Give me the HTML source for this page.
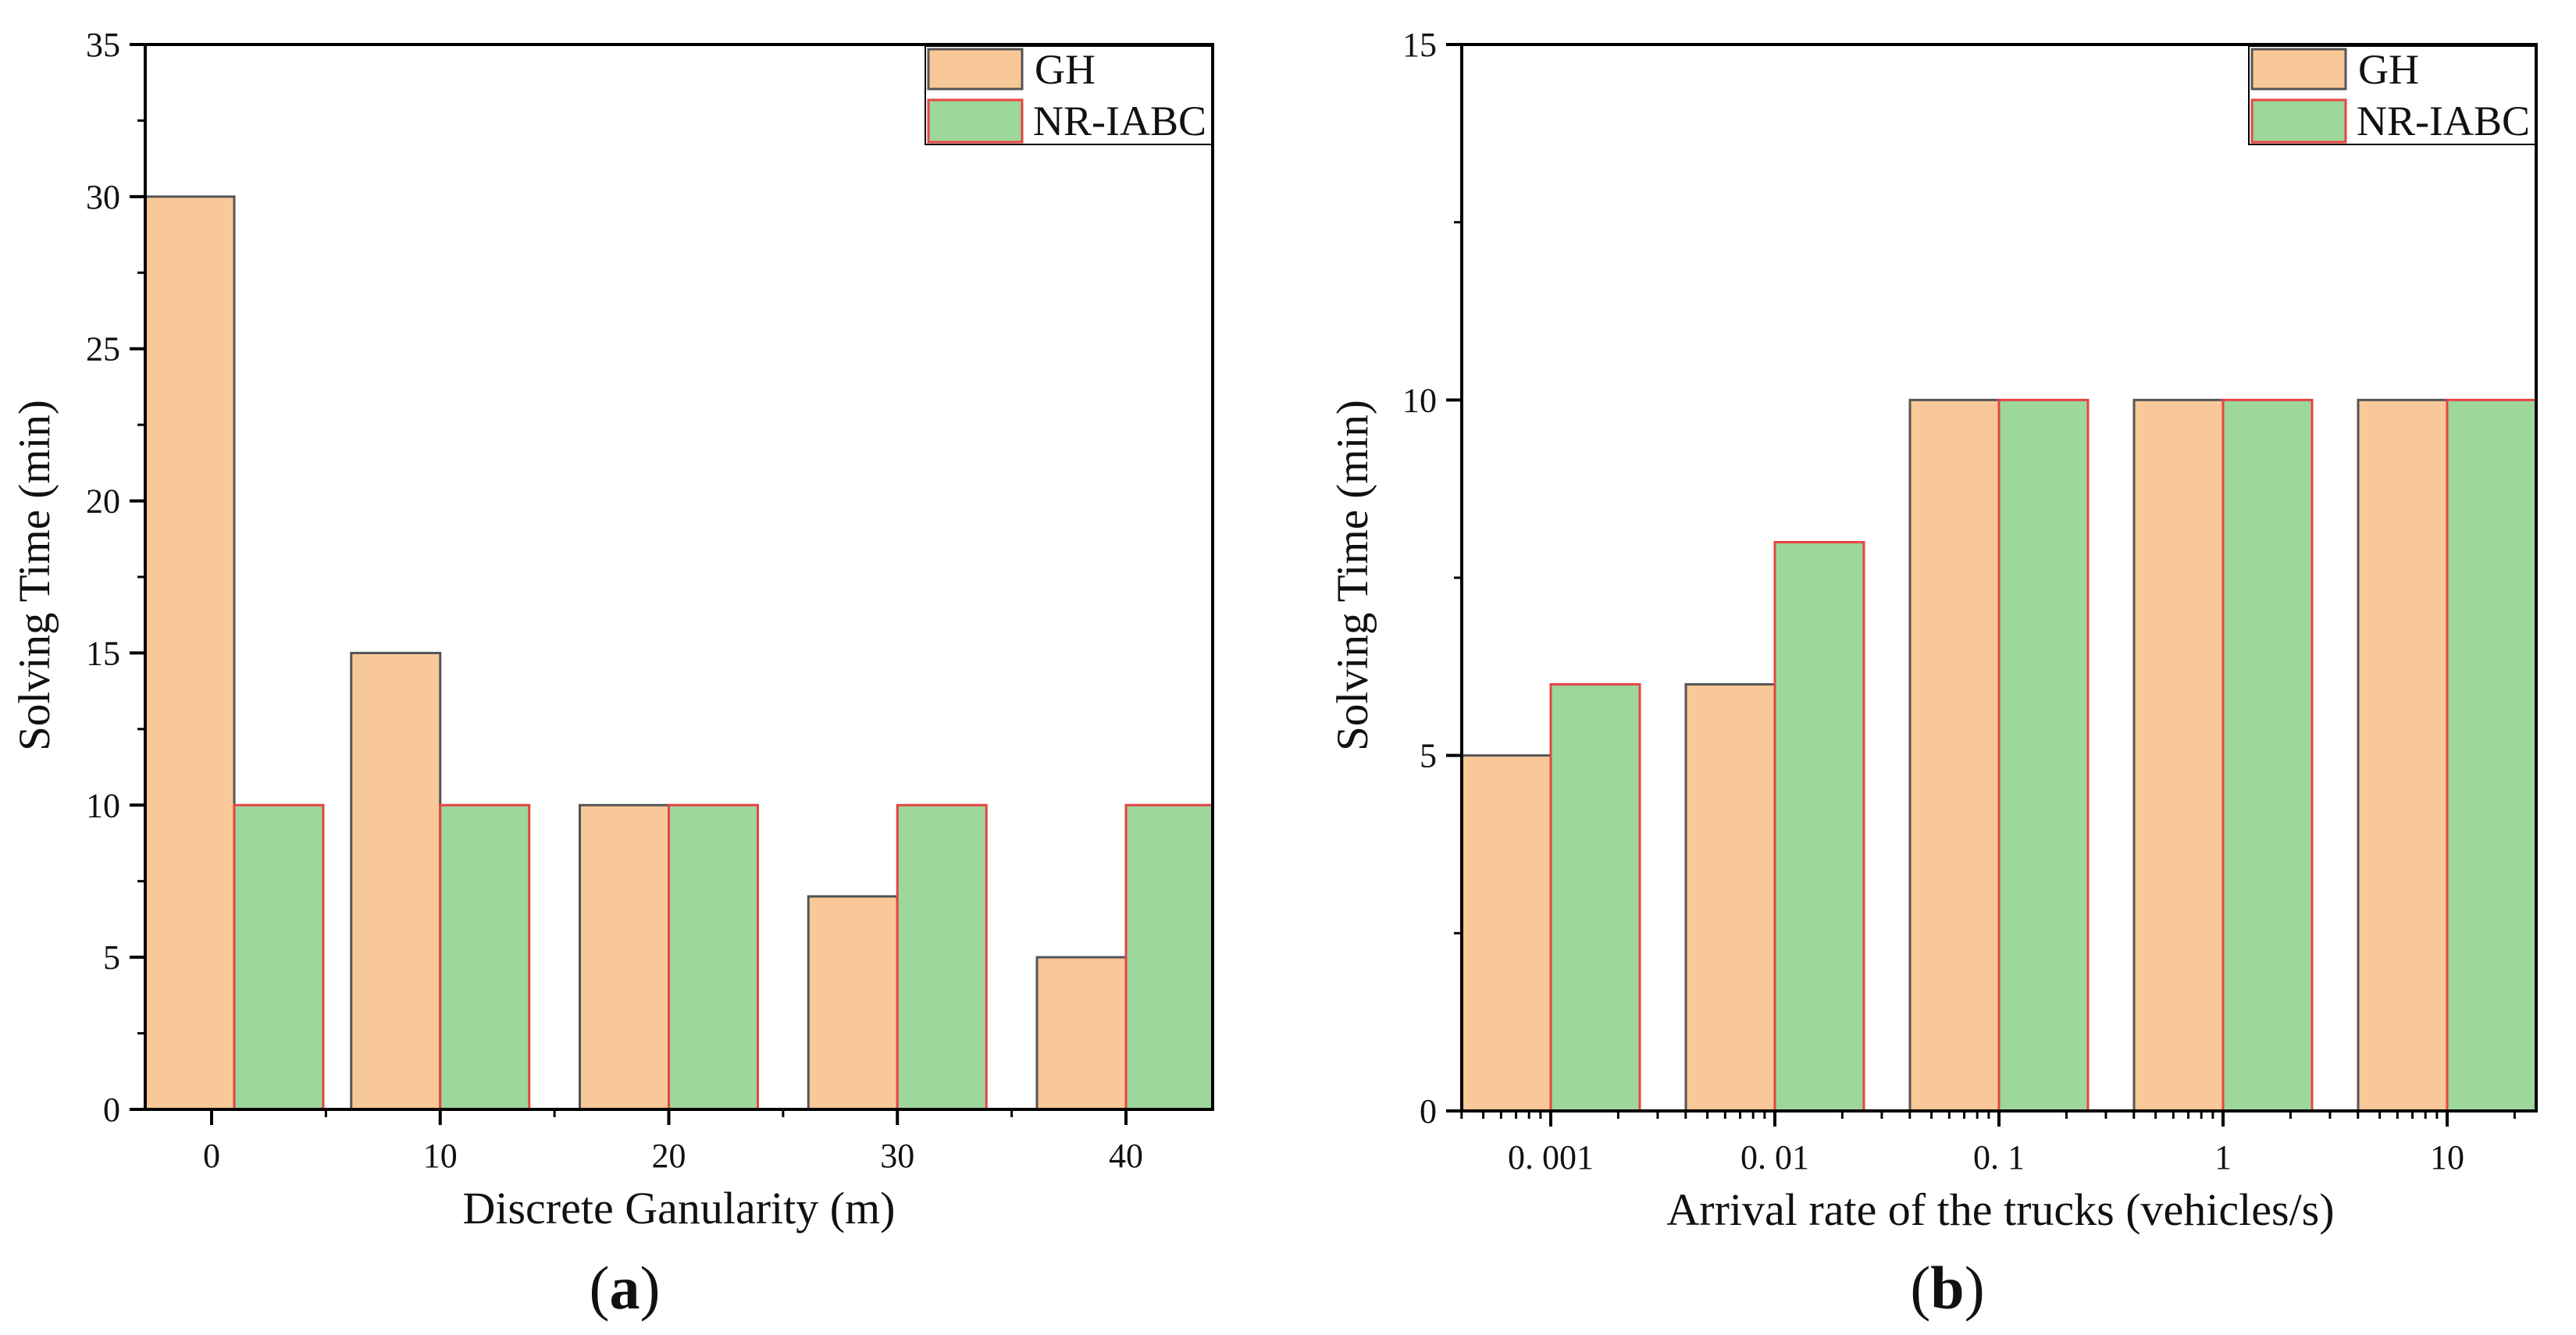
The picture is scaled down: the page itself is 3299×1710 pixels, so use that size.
<!DOCTYPE html>
<html><head><meta charset="utf-8">
<style>
html,body{margin:0;padding:0;background:#fff;}
svg{display:block;}
text{font-family:"Liberation Serif","Noto Serif CJK SC",serif;fill:#111;}
</style></head>
<body>
<svg id="fig" width="3299" height="1710" viewBox="0 0 3299 1710" xmlns="http://www.w3.org/2000/svg">
<g id="chartA"></g>
<g id="chartB"></g>
</svg>
<script>
const catsA = [0, 10, 20, 30, 40];
const ghA = [30, 15, 10, 7, 5];
const nrA = [10, 10, 10, 10, 10];
const yTicksA = [0, 5, 10, 15, 20, 25, 30, 35];
const xLabelsA = ["0", "10", "20", "30", "40"];

const catsB = [0.001, 0.01, 0.1, 1, 10];
const ghB = [5, 6, 10, 10, 10];
const nrB = [6, 8, 10, 10, 10];
const yTicksB = [0, 5, 10, 15];
const xLabelsB = ["0. 001", "0. 01", "0. 1", "1", "10"];

const NS = "http://www.w3.org/2000/svg";
function mk(parent, tag, attrs, txt) {
  const e = document.createElementNS(NS, tag);
  for (const k in attrs) e.setAttribute(k, attrs[k]);
  if (txt !== undefined) e.textContent = txt;
  parent.appendChild(e);
  return e;
}
const GH_FILL = "#f9c898", GH_STROKE = "#555555", NR_FILL = "#9dd79c", NR_STROKE = "#e84343";

function drawChart(g, cfg) {
  const {L, R, T, B, yMax, yTicks, xPos, cats, gh, nr, xLabels, bw, xTitle, panel, panelX, minorX, yMinorStep} = cfg;
  const ys = v => B - (v / yMax) * (B - T);
  const clip = mk(g, "clipPath", {id: "clip" + panel});
  mk(clip, "rect", {x: L, y: T, width: R - L, height: B - T});
  const bars = mk(g, "g", {"clip-path": "url(#clip" + panel + ")"});
  
  
  cats.forEach((c, i) => {
    let xc = xPos(c);
    if (xc - bw < L) xc = L + bw; // group pushed inside the axis
    const r1 = mk(bars, "rect", {x: xc - bw, y: ys(gh[i]), width: bw, height: B - ys(gh[i]), fill: GH_FILL, stroke: GH_STROKE, "stroke-width": 3});
    
    
    const r2 = mk(bars, "rect", {x: xc, y: ys(nr[i]), width: bw, height: B - ys(nr[i]), fill: NR_FILL, stroke: NR_STROKE, "stroke-width": 3});
    
    
  });
  const yax = mk(g, "g", {});
  
  
  for (let v = 0; v <= yMax + 1e-9; v += yMinorStep) {
    mk(yax, "line", {x1: L, x2: L - 10, y1: ys(v), y2: ys(v), stroke: "#000", "stroke-width": 3});
  }
  yTicks.forEach(v => {
    mk(yax, "line", {x1: L, x2: L - 20, y1: ys(v), y2: ys(v), stroke: "#000", "stroke-width": 4});
    const t = mk(yax, "text", {x: L - 32, y: ys(v) + 15, "text-anchor": "end", "font-size": 44}, String(v));
    
    
  });
  const xax = mk(g, "g", {});
  
  
  minorX.forEach(x => {
    if (x >= L - 1 && x <= R + 1) mk(xax, "line", {x1: x, x2: x, y1: B, y2: B + 10, stroke: "#000", "stroke-width": 3});
  });
  cats.forEach((c, i) => {
    const x = xPos(c);
    mk(xax, "line", {x1: x, x2: x, y1: B, y2: B + 20, stroke: "#000", "stroke-width": 4});
    const t = mk(xax, "text", {x: x, y: B + 74, "text-anchor": "middle", "font-size": 44}, xLabels[i]);
    
    
  });
  const xt = mk(g, "text", {x: (L + R) / 2 + cfg.xTitleDx, y: B + 146, "text-anchor": "middle", "font-size": 58}, xTitle);
  
  
  const yt = mk(g, "text", {x: 0, y: 0, "text-anchor": "middle", "font-size": 57, transform: `translate(${cfg.yTitleX},${737}) rotate(-90)`}, "Solving Time (min)");
  
  
  const pl = mk(g, "text", {x: panelX, y: 1676, "text-anchor": "middle", "font-size": 78}, "");
  
  
  mk(pl, "tspan", {}, "(");
  mk(pl, "tspan", {"font-weight": "bold"}, panel);
  mk(pl, "tspan", {}, ")");
  const lg = mk(g, "g", {});
  
  
  const lx = R - 368;
  mk(lg, "rect", {x: lx, y: T + 2, width: 368, height: 126, fill: "#fff", stroke: "#000", "stroke-width": 2});
  const s1 = mk(lg, "rect", {x: lx + 4, y: T + 6, width: 120, height: 51, fill: GH_FILL, stroke: GH_STROKE, "stroke-width": 3});
  
  
  const t1 = mk(lg, "text", {x: lx + 140, y: T + 50, "font-size": 54}, "GH");
  
  
  const s2 = mk(lg, "rect", {x: lx + 4, y: T + 71, width: 120, height: 54, fill: NR_FILL, stroke: NR_STROKE, "stroke-width": 3});
  
  
  const t2 = mk(lg, "text", {x: lx + 138, y: T + 116, "font-size": 54}, "NR-IABC");
  
  
  const fr = mk(g, "rect", {x: L, y: T, width: R - L, height: B - T, fill: "none", stroke: "#000", "stroke-width": 4});
  
  
}

const A = {L: 186, R: 1553, T: 57, B: 1421};
const x0A = 271, stepA = 292.75;
const xPosA = c => x0A + (c / 10) * stepA;
const minorA = [];
for (let k = -0.5; k <= 4.5; k += 0.5) minorA.push(x0A + k * stepA);
drawChart(document.getElementById("chartA"), Object.assign({}, A, {
  yMax: 35, yTicks: yTicksA, yMinorStep: 2.5, xPos: xPosA, cats: catsA, gh: ghA, nr: nrA,
  xLabels: xLabelsA, bw: 114, xTitle: "Discrete Ganularity (m)", xTitleDx: 0,
  panel: "a", panelX: 800, minorX: minorA, yTitleX: 63
}));

const B2 = {L: 1872, R: 3248, T: 57, B: 1423};
const decade = 287, x10 = 3134;
const xPosB = v => x10 + (Math.log10(v) - 1) * decade;
const minorB = [];
for (let e = -4; e <= 1; e++) for (let m = 2; m <= 9; m++) minorB.push(xPosB(m * Math.pow(10, e)));
drawChart(document.getElementById("chartB"), Object.assign({}, B2, {
  yMax: 15, yTicks: yTicksB, yMinorStep: 2.5, xPos: xPosB, cats: catsB, gh: ghB, nr: nrB,
  xLabels: xLabelsB, bw: 114, xTitle: "Arrival rate of the trucks (vehicles/s)", xTitleDx: 2,
  panel: "b", panelX: 2494, minorX: minorB, yTitleX: 1751
}));
</script>
</body></html>
